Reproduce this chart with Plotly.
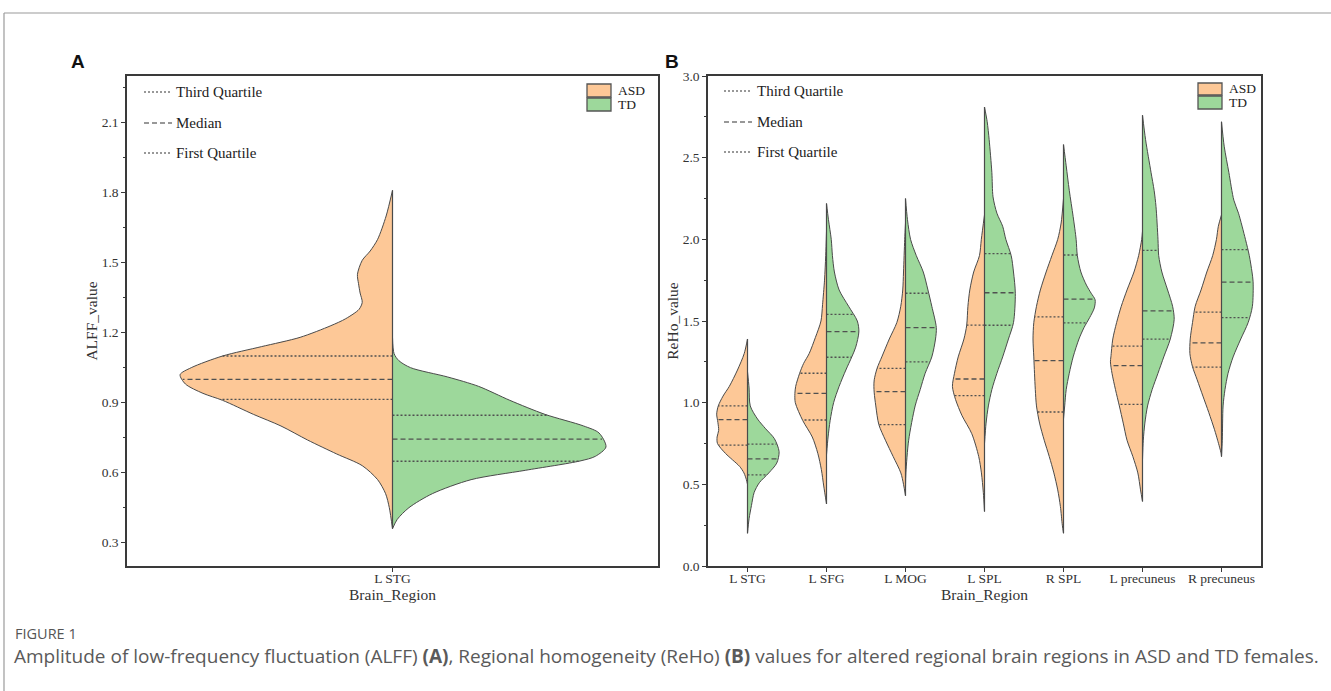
import numpy as np
import plotly.graph_objects as go

W, H = 1331, 691
ASD_COLOR = '#FDC897'
TD_COLOR = '#9DD89B'
EDGE = '#4a4a4a'
QCOL = '#505050'
SERIF = 'Liberation Serif'

# ---------------- Panel A (ALFF) ----------------
regions_A = ['L STG']
alff_asd_v = [1.81, 1.70, 1.60, 1.55, 1.51, 1.45, 1.41, 1.37, 1.33, 1.30, 1.26, 1.23, 1.18, 1.14, 1.10,
              1.05, 1.02, 0.98, 0.94, 0.91, 0.85, 0.80, 0.74, 0.68, 0.63, 0.57, 0.51, 0.45, 0.36]
alff_asd_w = [0, 0.012, 0.028, 0.042, 0.057, 0.066, 0.064, 0.061, 0.057, 0.063, 0.088, 0.116, 0.174, 0.247, 0.32,
              0.379, 0.40, 0.39, 0.357, 0.32, 0.262, 0.21, 0.16, 0.105, 0.057, 0.028, 0.013, 0.006, 0]
alff_asd_q = [0.914, 1.00, 1.10]
alff_td_v = [1.18, 1.11, 1.08, 1.05, 1.01, 0.97, 0.91, 0.85, 0.80, 0.77, 0.71, 0.67, 0.65, 0.61, 0.57,
             0.51, 0.45, 0.40, 0.36]
alff_td_w = [0, 0.003, 0.012, 0.034, 0.104, 0.162, 0.221, 0.287, 0.36, 0.389, 0.402, 0.382, 0.353, 0.25, 0.148,
             0.075, 0.031, 0.009, 0]
alff_td_q = [0.649, 0.744, 0.846]

# ---------------- Panel B (ReHo) ----------------
regions_B = ['L STG', 'L SFG', 'L MOG', 'L SPL', 'R SPL', 'L precuneus', 'R precuneus']

stg_asd_v = [1.39, 1.30, 1.20, 1.10, 1.04, 0.98, 0.93, 0.88, 0.83, 0.79, 0.75, 0.69, 0.65, 0.61, 0.57, 0.53, 0.50]
stg_asd_w = [0, 0.042, 0.127, 0.23, 0.31, 0.37, 0.39, 0.375, 0.365, 0.385, 0.38, 0.28, 0.19, 0.10, 0.045, 0.015, 0]
stg_asd_q = [0.74, 0.896, 0.98]
stg_td_v = [1.19, 1.09, 0.98, 0.90, 0.84, 0.78, 0.70, 0.63, 0.57, 0.51, 0.45, 0.37, 0.29, 0.20]
stg_td_w = [0, 0.02, 0.035, 0.127, 0.23, 0.34, 0.40, 0.37, 0.27, 0.15, 0.084, 0.05, 0.02, 0]
stg_td_q = [0.558, 0.656, 0.746]

sfg_asd_v = [2.05, 1.90, 1.75, 1.60, 1.50, 1.40, 1.30, 1.24, 1.18, 1.10, 1.057, 1.00, 0.89, 0.79, 0.69, 0.59, 0.49, 0.38]
sfg_asd_w = [0, 0.01, 0.025, 0.05, 0.07, 0.14, 0.22, 0.29, 0.34, 0.39, 0.40, 0.395, 0.30, 0.18, 0.11, 0.065, 0.035, 0]
sfg_asd_q = [0.894, 1.057, 1.18]
sfg_td_v = [2.22, 2.12, 2.00, 1.90, 1.80, 1.69, 1.59, 1.50, 1.435, 1.34, 1.28, 1.20, 1.10, 1.00, 0.89, 0.79, 0.68]
sfg_td_w = [0, 0.025, 0.06, 0.075, 0.10, 0.16, 0.28, 0.39, 0.41, 0.37, 0.32, 0.245, 0.16, 0.09, 0.046, 0.02, 0]
sfg_td_q = [1.278, 1.435, 1.54]

mog_asd_v = [2.10, 2.00, 1.80, 1.69, 1.59, 1.49, 1.39, 1.28, 1.21, 1.14, 1.10, 1.06, 0.98, 0.865, 0.77, 0.67, 0.57, 0.50, 0.43]
mog_asd_w = [0, 0.01, 0.025, 0.035, 0.06, 0.11, 0.205, 0.30, 0.36, 0.396, 0.40, 0.396, 0.376, 0.337, 0.254, 0.156, 0.059, 0.025, 0]
mog_asd_q = [0.865, 1.067, 1.21]
mog_td_v = [2.25, 2.12, 2.00, 1.90, 1.80, 1.69, 1.59, 1.46, 1.39, 1.28, 1.18, 1.08, 0.98, 0.77, 0.57, 0.48]
mog_td_w = [0, 0.025, 0.064, 0.137, 0.225, 0.284, 0.333, 0.39, 0.38, 0.333, 0.249, 0.186, 0.122, 0.04, 0.005, 0]
mog_td_q = [1.25, 1.46, 1.67]

lspl_asd_v = [2.15, 2.00, 1.90, 1.80, 1.69, 1.59, 1.475, 1.39, 1.28, 1.18, 1.10, 1.02, 0.92, 0.81, 0.67, 0.57, 0.45, 0.333]
lspl_asd_w = [0, 0.04, 0.064, 0.137, 0.186, 0.21, 0.225, 0.26, 0.333, 0.38, 0.406, 0.367, 0.284, 0.161, 0.073, 0.039, 0.015, 0]
lspl_asd_q = [1.043, 1.145, 1.475]
lspl_td_v = [2.81, 2.72, 2.61, 2.41, 2.26, 2.16, 2.08, 2.00, 1.90, 1.80, 1.67, 1.49, 1.39, 1.28, 1.18, 1.08, 0.98, 0.875, 0.75]
lspl_td_w = [0, 0.034, 0.059, 0.093, 0.108, 0.157, 0.23, 0.27, 0.338, 0.367, 0.39, 0.367, 0.303, 0.23, 0.157, 0.093, 0.049, 0.02, 0]
lspl_td_q = [1.474, 1.673, 1.912]

rspl_asd_v = [2.25, 2.10, 2.00, 1.90, 1.80, 1.69, 1.59, 1.49, 1.39, 1.28, 1.18, 1.08, 0.98, 0.875, 0.77, 0.67, 0.57,
              0.466, 0.364, 0.25, 0.20]
rspl_asd_w = [0, 0.03, 0.073, 0.147, 0.22, 0.293, 0.342, 0.376, 0.386, 0.376, 0.367, 0.357, 0.342, 0.303, 0.244, 0.18,
              0.122, 0.073, 0.039, 0.015, 0]
rspl_asd_q = [0.943, 1.258, 1.525]
rspl_td_v = [2.58, 2.45, 2.30, 2.14, 2.00, 1.90, 1.80, 1.72, 1.67, 1.63, 1.58, 1.52, 1.46, 1.39, 1.28, 1.18, 1.08, 0.98, 0.90]
rspl_td_w = [0, 0.034, 0.073, 0.122, 0.16, 0.175, 0.22, 0.29, 0.35, 0.40, 0.39, 0.33, 0.26, 0.196, 0.122, 0.073, 0.034, 0.015, 0]
rspl_td_q = [1.489, 1.634, 1.904]

lpre_asd_v = [2.05, 2.00, 1.90, 1.80, 1.69, 1.59, 1.49, 1.39, 1.28, 1.25, 1.18, 1.08, 0.98, 0.875, 0.77, 0.67, 0.57, 0.466, 0.395]
lpre_asd_w = [0, 0.01, 0.049, 0.108, 0.196, 0.269, 0.328, 0.376, 0.40, 0.406, 0.386, 0.342, 0.293, 0.244, 0.196, 0.122, 0.059, 0.025, 0]
lpre_asd_q = [0.99, 1.227, 1.346]
lpre_td_v = [2.76, 2.61, 2.41, 2.30, 2.20, 2.00, 1.90, 1.80, 1.69, 1.59, 1.51, 1.39, 1.28, 1.18, 1.08, 0.98, 0.875, 0.77, 0.65]
lpre_td_w = [0, 0.039, 0.108, 0.147, 0.171, 0.196, 0.205, 0.245, 0.318, 0.381, 0.401, 0.352, 0.269, 0.196, 0.122, 0.064, 0.03, 0.01, 0]
lpre_td_q = [1.389, 1.562, 1.932]

rpre_asd_v = [2.15, 2.08, 2.00, 1.90, 1.80, 1.69, 1.59, 1.49, 1.39, 1.30, 1.22, 1.14, 1.04, 0.94, 0.834, 0.77, 0.69, 0.67]
rpre_asd_w = [0, 0.04, 0.064, 0.112, 0.186, 0.259, 0.333, 0.367, 0.396, 0.40, 0.367, 0.308, 0.235, 0.161, 0.088, 0.049, 0.005, 0]
rpre_asd_q = [1.217, 1.366, 1.554]
rpre_td_v = [2.72, 2.57, 2.41, 2.24, 2.16, 2.00, 1.90, 1.80, 1.74, 1.59, 1.49, 1.39, 1.28, 1.18, 1.08, 0.98, 0.77, 0.67]
rpre_td_w = [0, 0.034, 0.093, 0.156, 0.215, 0.303, 0.352, 0.386, 0.40, 0.391, 0.337, 0.244, 0.147, 0.083, 0.044, 0.02, 0.01, 0]
rpre_td_q = [1.521, 1.738, 1.937]

violins_A = [(alff_asd_v, alff_asd_w, alff_asd_q, alff_td_v, alff_td_w, alff_td_q)]
violins_B = [
    (stg_asd_v, stg_asd_w, stg_asd_q, stg_td_v, stg_td_w, stg_td_q),
    (sfg_asd_v, sfg_asd_w, sfg_asd_q, sfg_td_v, sfg_td_w, sfg_td_q),
    (mog_asd_v, mog_asd_w, mog_asd_q, mog_td_v, mog_td_w, mog_td_q),
    (lspl_asd_v, lspl_asd_w, lspl_asd_q, lspl_td_v, lspl_td_w, lspl_td_q),
    (rspl_asd_v, rspl_asd_w, rspl_asd_q, rspl_td_v, rspl_td_w, rspl_td_q),
    (lpre_asd_v, lpre_asd_w, lpre_asd_q, lpre_td_v, lpre_td_w, lpre_td_q),
    (rpre_asd_v, rpre_asd_w, rpre_asd_q, rpre_td_v, rpre_td_w, rpre_td_q),
]


def X(px):
    return px / W


def Y(py):
    return 1 - py / H


fig = go.Figure()


def add_panel(violins, xa, ya):
    dot_x, dot_y, dash_x, dash_y, cen_x, cen_y = [], [], [], [], [], []
    for i, (av, aw, aq, tv, tw, tq) in enumerate(violins):
        for v, w, q, sign, col in ((av, aw, aq, -1, ASD_COLOR), (tv, tw, tq, 1, TD_COLOR)):
            v = np.asarray(v, float)
            w = np.asarray(w, float)
            fig.add_trace(go.Scatter(
                x=i + sign * w, y=v, mode='lines', fill='toself', fillcolor=col,
                line=dict(color=EDGE, width=1, shape='spline', smoothing=0.8),
                hoverinfo='skip', showlegend=False, xaxis=xa, yaxis=ya))
            for k, qv in enumerate(q):
                half = np.interp(qv, v[::-1], w[::-1])
                xs = [i, i + sign * half, None]
                ys = [qv, qv, None]
                if k == 1:
                    dash_x += xs
                    dash_y += ys
                else:
                    dot_x += xs
                    dot_y += ys
        lo = min(min(av), min(tv))
        hi = max(max(av), max(tv))
        cen_x += [i, i, None]
        cen_y += [lo, hi, None]
    fig.add_trace(go.Scatter(x=dot_x, y=dot_y, mode='lines',
                             line=dict(color=QCOL, width=1.3, dash='2px,2px'),
                             hoverinfo='skip', showlegend=False, xaxis=xa, yaxis=ya))
    fig.add_trace(go.Scatter(x=dash_x, y=dash_y, mode='lines',
                             line=dict(color=QCOL, width=1.3, dash='5px,3px'),
                             hoverinfo='skip', showlegend=False, xaxis=xa, yaxis=ya))
    fig.add_trace(go.Scatter(x=cen_x, y=cen_y, mode='lines',
                             line=dict(color=EDGE, width=1.2),
                             hoverinfo='skip', showlegend=False, xaxis=xa, yaxis=ya))


add_panel(violins_A, 'x', 'y')
add_panel(violins_B, 'x2', 'y2')

tickfont = dict(family=SERIF, size=13.5, color='#333333')
titlefont = dict(family=SERIF, size=15.5, color='#333333')
axcommon = dict(showline=True, linecolor='#3a3a3a', linewidth=1.5, mirror=True, showgrid=False,
                zeroline=False, ticks='outside', ticklen=4, tickwidth=1, tickcolor='#3a3a3a',
                tickfont=tickfont, automargin=False)

yA_dom = [Y(566), Y(76)]
fig.update_layout(
    width=W, height=H, autosize=False, margin=dict(l=0, r=0, t=0, b=0, pad=0, autoexpand=False),
    paper_bgcolor='white', plot_bgcolor='white', showlegend=False,
    xaxis=dict(domain=[X(127), X(658)], range=[-0.5, 0.5], tickvals=list(range(len(regions_A))),
               ticktext=regions_A, anchor='y', ticklabelstandoff=-5,
               title=dict(text='Brain_Region', font=titlefont, standoff=4), **axcommon),
    yaxis=dict(domain=yA_dom, range=[0.2, 2.3], tick0=0.3, dtick=0.3, tickformat='.1f', anchor='x',
               minor=dict(tick0=0.3, dtick=0.15, ticks='outside', ticklen=2.5, tickcolor='#3a3a3a'),
               title=dict(text='ALFF_value', font=titlefont, standoff=0), **axcommon),
    xaxis2=dict(domain=[X(708), X(1261)], range=[-0.5, 6.5], tickvals=list(range(len(regions_B))),
                ticktext=regions_B, anchor='y2', ticklabelstandoff=-5,
                title=dict(text='Brain_Region', font=titlefont, standoff=4), **axcommon),
    yaxis2=dict(domain=yA_dom, range=[0, 3.0], tick0=0, dtick=0.5, tickformat='.1f', anchor='x2',
                minor=dict(tick0=0, dtick=0.25, ticks='outside', ticklen=2.5, tickcolor='#3a3a3a'),
                title=dict(text='ReHo_value', font=titlefont, standoff=0), **axcommon),
)

shapes = []
annotations = []

# outer frame lines
shapes.append(dict(type='line', xref='paper', yref='paper', x0=X(4), x1=1, y0=Y(13), y1=Y(13),
                   line=dict(color='#9a9a9a', width=1.2)))
shapes.append(dict(type='line', xref='paper', yref='paper', x0=X(4), x1=X(4), y0=Y(13), y1=0,
                   line=dict(color='#9a9a9a', width=1.2)))

legfont = dict(family=SERIF, size=15, color='#222222')


def quartile_legend(x0, x1, xt, ys):
    styles = ['2px,2px', '5px,3px', '2px,2px']
    labels = ['Third Quartile', 'Median', 'First Quartile']
    for yy, st, lab in zip(ys, styles, labels):
        shapes.append(dict(type='line', xref='paper', yref='paper', x0=X(x0), x1=X(x1), y0=Y(yy), y1=Y(yy),
                           line=dict(color='#333333', width=1.1, dash=st)))
        annotations.append(dict(xref='paper', yref='paper', x=X(xt), y=Y(yy), text=lab, showarrow=False,
                                xanchor='left', yanchor='middle', font=legfont))


def group_legend(bx0, bx1, tops, xt):
    for (t, b), col, lab in zip(tops, (ASD_COLOR, TD_COLOR), ('ASD', 'TD')):
        shapes.append(dict(type='rect', xref='paper', yref='paper', x0=X(bx0), x1=X(bx1), y0=Y(b), y1=Y(t),
                           fillcolor=col, line=dict(color='#555555', width=1.3)))
        annotations.append(dict(xref='paper', yref='paper', x=X(xt), y=Y((t + b) / 2), text=lab,
                                showarrow=False, xanchor='left', yanchor='middle',
                                font=dict(family=SERIF, size=13.5, color='#222222')))


quartile_legend(144, 172, 174, [92, 123, 153])
quartile_legend(724, 752, 755, [91, 122, 152])
group_legend(587, 611, [(84, 97), (98, 111)], 616)
group_legend(1198, 1222, [(83, 95), (96, 109)], 1227)

# panel letters
for lx, lab in ((78, 'A'), (672, 'B')):
    annotations.append(dict(xref='paper', yref='paper', x=X(lx), y=Y(62), text='<b>%s</b>' % lab,
                            showarrow=False, xanchor='center', yanchor='middle',
                            font=dict(family='Liberation Sans', size=19, color='#111111')))

# caption
annotations.append(dict(xref='paper', yref='paper', x=X(13), y=Y(633), text='FIGURE 1', showarrow=False,
                        xanchor='left', yanchor='middle',
                        font=dict(family='Open Sans', size=14.5, color='#555555')))
annotations.append(dict(xref='paper', yref='paper', x=X(12), y=Y(656),
                        text='Amplitude of low-frequency fluctuation (ALFF) <b>(A)</b>, Regional homogeneity '
                             '(ReHo) <b>(B)</b> values for altered regional brain regions in ASD and TD females.',
                        showarrow=False, xanchor='left', yanchor='middle',
                        font=dict(family='Open Sans', size=19, color='#5a5a5a')))

fig.update_layout(shapes=shapes, annotations=annotations)
fig.write_html('out.html', config={'displayModeBar': False},
               post_script="document.body.style.margin='0px';document.body.style.overflow='hidden';")
